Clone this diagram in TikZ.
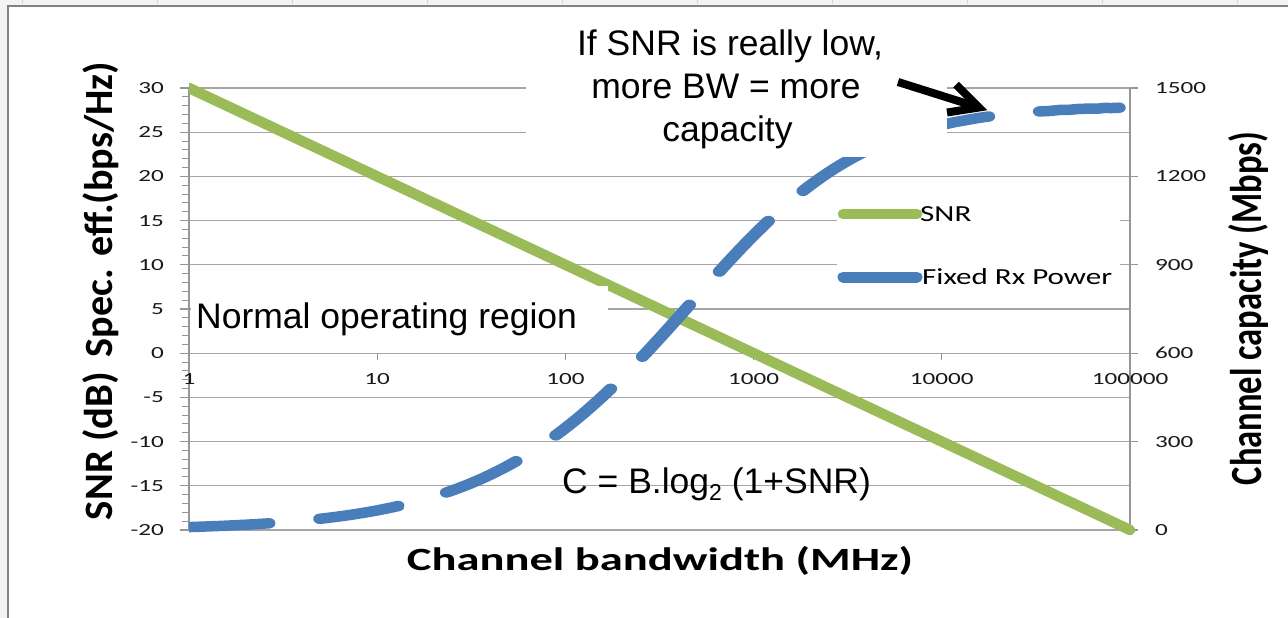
\documentclass[tikz,border=0pt]{standalone}
\usepackage{graphicx}
\usepackage{fontspec}
\setmainfont{Liberation Sans}
\newfontfamily\chartfont{Carlito}
\usetikzlibrary{arrows.meta}

\definecolor{snrgreen}{HTML}{9BBB59}
\definecolor{rxblue}{HTML}{4A7EBB}
\definecolor{gridgray}{HTML}{A6A6A6}
\definecolor{axisgray}{HTML}{969696}
\definecolor{framegray}{HTML}{828282}
\definecolor{sheetgray}{HTML}{F3F3F3}
\definecolor{sheetmark}{HTML}{D4D4D4}

% chart text: tick labels, legend entries, axis titles
\newcommand{\ticktext}[1]{\scalebox{1.48}[1]{\chartfont\fontsize{17}{20}\selectfont #1}}
\newcommand{\legtext}[1]{\scalebox{1.35}[1]{\chartfont\fontsize{23}{26}\selectfont #1}}
\newcommand{\titletext}[3]{\resizebox*{#1}{#2}{\chartfont\bfseries\fontsize{30}{34}\selectfont #3}}

\begin{document}
\begin{tikzpicture}[x=1pt,y=-1pt,
  gridline/.style={draw=gridgray,line width=1.2pt},
  axisline/.style={draw=axisgray,line width=1.2pt},
  ticklabel/.style={inner sep=0pt,text=black!90},
  snrline/.style={draw=snrgreen,line width=10.5pt,line cap=round},
  rxline/.style={draw=rxblue,line width=11pt,line cap=round},
  annot/.style={inner sep=0pt,font=\fontsize{35.5}{41}\selectfont},
  arrowline/.style={draw=black,line width=8pt},
]
\useasboundingbox (0,0) rectangle (1288,618);

% sheet background and chart frame
\fill[sheetgray] (0,0) rectangle (1288,618);
\fill[white] (8,6) rectangle (1288,618);
\foreach \cx in {22,157,...,1237} \draw[sheetmark,line width=0.8pt] (\cx,0) -- (\cx,4);
\draw[framegray,line width=2.4pt] (8,618) -- (8,6) -- (1288,6);

% horizontal gridlines (one per 5 dB)
\foreach \k in {0,...,10} \draw[gridline] (189,{88+44.2*\k}) -- (1130,{88+44.2*\k});

% left axis with minor and major ticks
\foreach \k in {0,...,50} \draw[axisline,line width=1pt] (182,{88+8.84*\k}) -- (189,{88+8.84*\k});
\foreach \k in {0,...,10} \draw[axisline] (180,{88+44.2*\k}) -- (189,{88+44.2*\k});
\draw[axisline] (189,88) -- (189,530);

% right axis
\draw[axisline] (1130,88) -- (1130,530);
\foreach \k in {0,...,5} \draw[axisline] (1130,{88+88.4*\k}) -- (1138,{88+88.4*\k});

% bandwidth axis decade ticks
\foreach \d in {0,...,5} \draw[axisline] ({189+188.2*\d},353.2) -- ({189+188.2*\d},360);

% tick labels
\foreach \v [count=\k from 0] in {30,25,20,15,10,5,0,-5,-10,-15,-20}
  \node[ticklabel,anchor=east] (snrtick\k) at (164,{88+44.2*\k}) {\ticktext{\v}};
\foreach \v [count=\k from 0] in {1500,1200,900,600,300,0}
  \node[ticklabel,anchor=west] (captick\k) at (1155,{88+88.4*\k}) {\ticktext{\v}};
\foreach \v [count=\k from 0] in {1,10,100,1000,10000,100000}
  \node[ticklabel] (bwtick\k) at ({189+188.2*\k},379.5) {\ticktext{\v}};

% SNR series: falls 10 dB per decade
\begin{scope}
  \clip (189,60) rectangle (1150,560);
  \draw[snrline] (189,88) -- (1130,530);
\end{scope}

% capacity series C = B log2(1+1000/B), drawn on the chart's unstretched
% canvas so that the long dashes keep the sheet's proportions
\begin{scope}[transform canvas={xscale=1.25}]
  \clip (151.2,60) rectangle (920,560);
  \draw[rxline,line width=10.5pt,dash pattern=on 64pt off 41pt]
    plot[domain=0:5,samples=150]
    ({151.2+150.56*\x},{530-425.1*ln(1+10^(3-\x))/(10^(3-\x))});
\end{scope}

% opaque text areas
\fill[white] (526,12) rectangle (947,157);
\fill[white] (837,190) rectangle (1120,296);
\fill[white] (191,286) rectangle (608,345);

% legend
\coordinate (snrkeyL) at (843,214);
\coordinate (snrkeyR) at (917,214);
\coordinate (rxkeyL) at (843,277);
\coordinate (rxkeyR) at (917,277);
\draw[snrline] (snrkeyL) -- (snrkeyR);
\draw[rxline] (rxkeyL) -- (rxkeyR);
\node[inner sep=0pt,anchor=west] (snrkey) at (920,214.5) {\legtext{SNR}};
\node[inner sep=0pt,anchor=west] (rxkey) at (922,276.5) {\legtext{Fixed Rx Power}};

% axis titles
\node[inner sep=0pt,rotate=90] (spectitle) at (101,209.5) {\titletext{295pt}{36pt}{Spec. eff.(bps/Hz)}};
\node[inner sep=0pt,rotate=90] (snrtitle) at (101,446) {\titletext{148pt}{36pt}{SNR (dB)}};
\node[inner sep=0pt,rotate=90] (captitle) at (1248,308.5) {\titletext{353pt}{40pt}{Channel capacity (Mbps)}};
\node[inner sep=0pt] (bwtitle) at (660,561) {\titletext{506pt}{29pt}{Channel bandwidth (MHz)}};

% annotations
\node[annot,anchor=base] (lowsnrA) at (730,56) {If SNR is really low,};
\node[annot,anchor=base] (lowsnrB) at (726,99) {more BW = more};
\node[annot,anchor=base] (lowsnrC) at (727.5,141) {capacity};
\node[annot,anchor=base west] (normal) at (196,328) {Normal operating region};
\node[annot,anchor=base west] (shannon) at (562,493)
  {C = B.log\raisebox{-0.22em}{\fontsize{23}{23}\selectfont 2} (1+SNR)};

% pointer arrow
\coordinate (arrowtail) at (898,82);
\coordinate (arrowtip) at (979,107.5);
\coordinate (barbup) at (956,84.5);
\coordinate (barbdown) at (947,112.5);
\draw[arrowline] (arrowtail) -- (arrowtip);
\draw[arrowline,line join=miter] (barbup) -- (arrowtip) -- (barbdown);
\end{tikzpicture}
\end{document}
